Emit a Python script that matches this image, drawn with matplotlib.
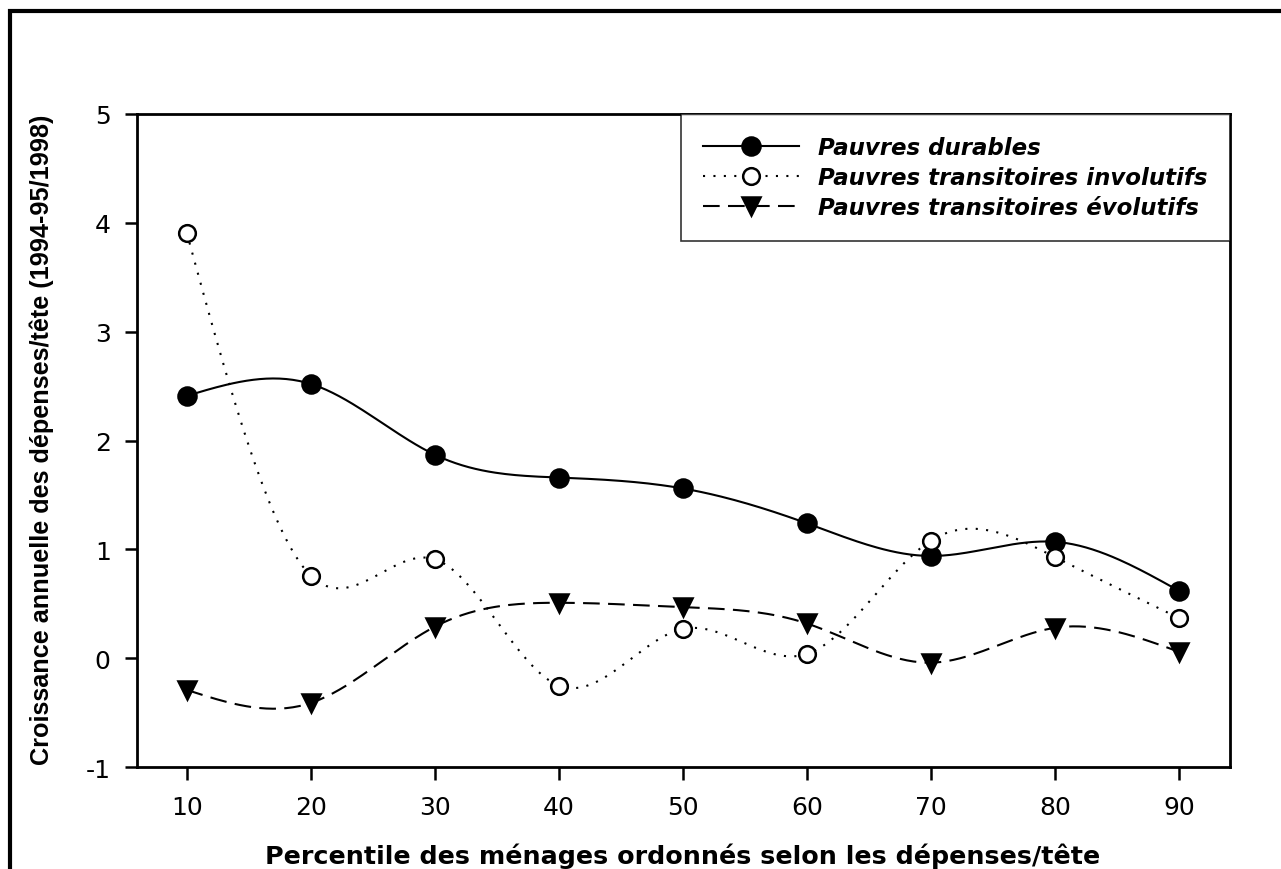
import numpy as np
import matplotlib.pyplot as plt
from matplotlib.patches import Rectangle

# percentiles
percentiles = [10, 20, 30, 40, 50, 60, 70, 80, 90]

# valeurs
durables = [2.41, 2.52, 1.87, 1.66, 1.56, 1.24, 0.94, 1.07, 0.62]
involutifs = [3.91, 0.76, 0.91, -0.25, 0.27, 0.04, 1.08, 0.93, 0.37]
evolutifs = [-0.29, -0.41, 0.29, 0.51, 0.47, 0.32, -0.04, 0.28, 0.06]

noms = ['Pauvres durables', 'Pauvres transitoires involutifs',
        'Pauvres transitoires évolutifs']


def spline(x, y, n=300):
    # spline cubique naturelle, seulement pour lisser le trace
    x = np.asarray(x, float)
    y = np.asarray(y, float)
    k = len(x)
    h = np.diff(x)
    A = np.zeros((k, k))
    b = np.zeros(k)
    A[0, 0] = 1
    A[-1, -1] = 1
    for i in range(1, k - 1):
        A[i, i - 1] = h[i - 1]
        A[i, i] = 2 * (h[i - 1] + h[i])
        A[i, i + 1] = h[i]
        b[i] = 6 * ((y[i + 1] - y[i]) / h[i] - (y[i] - y[i - 1]) / h[i - 1])
    M = np.linalg.solve(A, b)
    xs = np.linspace(x[0], x[-1], n)
    ys = np.empty_like(xs)
    for j, xv in enumerate(xs):
        i = min(np.searchsorted(x, xv, side='right') - 1, k - 2)
        t1 = x[i + 1] - xv
        t0 = xv - x[i]
        ys[j] = (M[i] * t1 ** 3 + M[i + 1] * t0 ** 3) / (6 * h[i]) \
            + (y[i] / h[i] - M[i] * h[i] / 6) * t1 \
            + (y[i + 1] / h[i] - M[i + 1] * h[i] / 6) * t0
    return xs, ys


plt.rcParams['font.family'] = ['DejaVu Sans']
plt.rcParams['axes.unicode_minus'] = False

fig = plt.figure(figsize=(12.81, 8.70), dpi=100)
ax = fig.add_axes([0.107, 0.117, 0.853, 0.751])

styles = [
    dict(ls='-', marker='o', mfc='black', ms=13, dashes=None),
    dict(ls=':', marker='o', mfc='white', ms=12, dashes=(1, 4)),
    dict(ls='--', marker='v', mfc='black', ms=13, dashes=(8, 4)),
]

handles = []
for serie, st, nom in zip([durables, involutifs, evolutifs], styles, noms):
    xs, ys = spline(percentiles, serie)
    ligne, = ax.plot(xs, ys, color='black', lw=1.5, ls=st['ls'])
    if st['dashes'] is not None:
        ligne.set_dashes(st['dashes'])
    ax.plot(percentiles, serie, ls='none', marker=st['marker'], ms=st['ms'],
            mfc=st['mfc'], mec='black', mew=1.8, zorder=3)
    h, = ax.plot([], [], color='black', lw=1.5, ls=st['ls'], marker=st['marker'],
                 ms=st['ms'], mfc=st['mfc'], mec='black', mew=1.8)
    if st['dashes'] is not None:
        h.set_dashes(st['dashes'])
    handles.append(h)

ax.set_xlim(6, 94.1)
ax.set_ylim(-1, 5)
ax.set_xticks(percentiles)
ax.set_yticks([-1, 0, 1, 2, 3, 4, 5])
ax.tick_params(direction='out', length=9, width=1.8, labelsize=18)
ax.tick_params(axis='x', pad=11)
ax.tick_params(axis='y', pad=10)
for s in ax.spines.values():
    s.set_linewidth(2)

leg = ax.legend(handles, noms, loc='upper right', bbox_to_anchor=(1, 1),
                frameon=True, fancybox=False, edgecolor='black', handlelength=4.2,
                handletextpad=0.85, borderpad=0.95, labelspacing=0.32, borderaxespad=0,
                prop=dict(size=16.5, style='italic', weight='bold'))
leg.get_frame().set_linewidth(1.2)

fig.text(0.533, 0.0069, 'Percentile des ménages ordonnés selon les dépenses/tête',
         ha='center', va='baseline', fontsize=18.3, fontweight='bold')
fig.text(0.0325, 0.494, 'Croissance annuelle des dépenses/tête (1994-95/1998)',
         ha='center', va='center', rotation=90, fontsize=18.2, fontweight='bold',
         family=['Liberation Sans', 'DejaVu Sans'])

# cadre exterieur
fig.patches.append(Rectangle((0.0078, -0.1), 1.1, 1.086, transform=fig.transFigure,
                             fill=False, lw=3, edgecolor='black'))

fig.savefig('out.png', dpi=100)
